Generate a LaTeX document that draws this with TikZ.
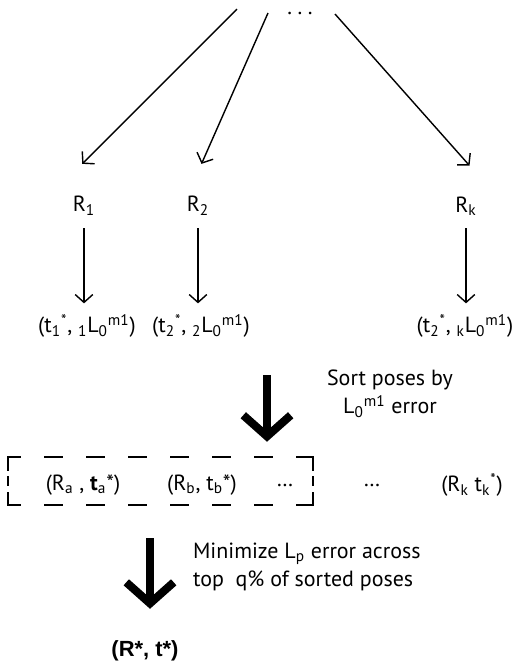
\documentclass[tikz,border=0pt]{standalone}
\usepackage{fontspec}
\setmainfont{PT Sans}
\newfontfamily\heavyfont{Liberation Sans}
\usepackage{tikz}
\usetikzlibrary{positioning,arrows.meta}

\begin{document}
\begin{tikzpicture}[x=0.02cm,y=-0.02cm,
  every node/.style={font=\fontsize{12.5}{16}\selectfont,inner sep=1pt},
  link/.style={line width=0.8pt,-{Straight Barb[length=4.5pt,width=10pt]}},
  heavy/.style={line width=4.6pt,-{Straight Barb[length=12pt,width=27pt]}},
  sortbox/.style={minimum width=6.1cm,minimum height=0.96cm},
  boxedge/.style={line width=1.1pt,line cap=rect,dash pattern=on 0.34cm off 0.5cm,dash phase=0.1cm},
  boxside/.style={line width=1.1pt,line cap=rect,dash pattern=on 0.26cm off 0.14cm on 0.16cm off 0.16cm},
  note/.style={align=left,anchor=west} ]
  \useasboundingbox (0,0) rectangle (522,667);

  % free ends of the fan
  \coordinate (f1) at (237,9);
  \coordinate (f2) at (268,13);
  \coordinate (f3) at (335,14);
  \node[inner sep=0pt] (topdots) at (300,13) {.\hspace{3.2pt}.\hspace{3.2pt}.};

  \node (r1) at (84,206)  {R\textsubscript{1}};
  \node (r2) at (198,206) {R\textsubscript{2}};
  \node (rk) at (466,206) {R\textsubscript{k}};

  \node (t1) at (87,326)  {(t\textsubscript{1}\textsuperscript{*}, \textsubscript{1}L\textsubscript{0}\textsuperscript{m1})};
  \node (t2) at (201,326) {(t\textsubscript{2}\textsuperscript{*}, \textsubscript{2}L\textsubscript{0}\textsuperscript{m1})};
  \node (tk) at (465,326) {(t\textsubscript{2}\textsuperscript{*}, \textsubscript{k}L\textsubscript{0}\textsuperscript{m1})};

  \draw[link] (f1) -- ([xshift=-1pt,yshift=24pt]r1.center);
  \draw[link] (f2) -- ([xshift=2pt,yshift=24pt]r2.center);
  \draw[link] (f3) -- ([xshift=2pt,yshift=23pt]rk.center);
  \draw[link,shorten <=6pt,shorten >=5pt] (r1 |- r1.south) -- (r1 |- t1.north);
  \draw[link,shorten <=6pt,shorten >=5pt] (r2 |- r2.south) -- (r2 |- t2.north);
  \draw[link,shorten <=6pt,shorten >=5pt] (rk |- rk.south) -- (rk |- tk.north);

  % sorting step
  \coordinate (s1) at (267,375);
  \node[align=center] (sortnote) at (390,394) {Sort poses by\\L\textsubscript{0}\textsuperscript{m1} error};
  \node[sortbox] (box) at (160.5,481) {};
  \draw[boxedge] (box.north west) -- (box.north east);
  \draw[boxedge] (box.south west) -- (box.south east);
  \draw[boxside] (box.north west) -- (box.south west);
  \draw[boxside] (box.north east) -- (box.south east);
  \draw[heavy,shorten >=8.5pt] (s1) -- (s1 |- box.north);

  \node (pa) at (83,485)  {(R\textsubscript{a} , \textbf{t}\textsubscript{a}*)};
  \node (pb) at (202,485) {(R\textsubscript{b}, t\textsubscript{b}*)};
  \node (pdots) at (285,485) {\dots};
  \node (odots) at (372,485) {\dots};
  \node (pk) at (472,485) {(R\textsubscript{k} t\textsubscript{k}\textsuperscript{*})};

  % refinement step
  \coordinate (s2) at (150,538);
  \node[note] (minnote) at (191,567) {Minimize L\textsubscript{p} error across\\top \ q\% of sorted poses};
  \node (best) at (145,651) {\heavyfont\bfseries (R*, t*)};
  \draw[heavy,shorten >=17pt] (s2) -- (s2 |- best.north);
\end{tikzpicture}
\end{document}
